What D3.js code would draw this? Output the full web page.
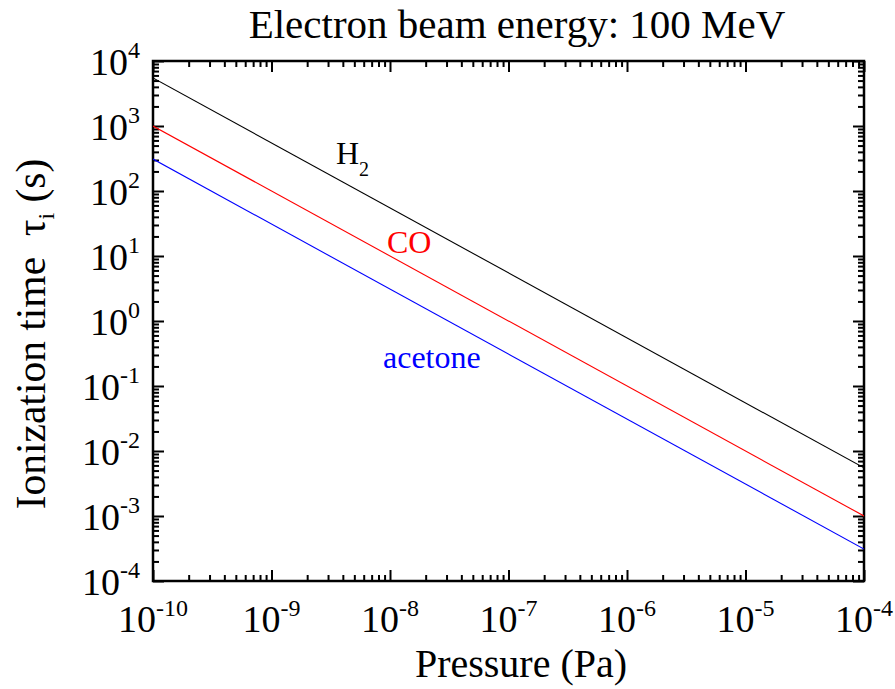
<!DOCTYPE html>
<html>
<head>
<meta charset="utf-8">
<script src="https://cdn.jsdelivr.net/npm/d3@7"></script>
<style>
  html, body { margin: 0; padding: 0; background: #fff; }
  svg { display: block; }
</style>
</head>
<body>
<svg id="chart" width="895" height="689"></svg>
<script>
// ---- data ----
const pressure = [1e-10, 1e-4];           // Pa
const h2Values = [5.5e3, 5.5e-3];         // s
const coValues = [1.0e3, 1.0e-3];         // s
const acetoneValues = [3.1e2, 3.1e-4];    // s
const seriesNames = ["H2", "CO", "acetone"];
const xTickExponents = [-10, -9, -8, -7, -6, -5, -4];
const yTickExponents = [-4, -3, -2, -1, 0, 1, 2, 3, 4];
const titleText = "Electron beam energy: 100 MeV";
const xTitleText = "Pressure (Pa)";

// ---- layout ----
const FONT = "'Liberation Serif', 'Times New Roman', Tinos, serif";
const svg = d3.select("#chart");
const margin = {left: 153, top: 61, right: 895 - 864, bottom: 689 - 581};
const W = 895 - margin.left - margin.right;
const H = 689 - margin.top - margin.bottom;

const x = d3.scaleLog().domain([1e-10, 1e-4]).range([0, W]);
const y = d3.scaleLog().domain([1e-4, 1e4]).range([H, 0]);

const g = svg.append("g").attr("transform", `translate(${margin.left},${margin.top})`);

function logTicks(lo, hi) {
  const major = [], minor = [];
  for (let e = lo; e <= hi; e++) {
    major.push(Math.pow(10, e));
    if (e < hi) for (let k = 2; k <= 9; k++) minor.push(k * Math.pow(10, e));
  }
  return {major, minor};
}
const xt = logTicks(-10, -4);
const yt = logTicks(-4, 4);

const majorLen = 11, minorLen = 6;
function drawAxis(axisGen, transform, vals, len) {
  const a = g.append("g").attr("transform", transform)
    .call(axisGen.tickValues(vals).tickSize(len).tickFormat(""));
  a.select(".domain").remove();
  a.selectAll(".tick line").attr("stroke", "#000").attr("stroke-width", 2);
}
drawAxis(d3.axisBottom(x), `translate(0,${H})`, xt.major, -majorLen);
drawAxis(d3.axisBottom(x), `translate(0,${H})`, xt.minor, -minorLen);
drawAxis(d3.axisTop(x), `translate(0,0)`, xt.major, -majorLen);
drawAxis(d3.axisTop(x), `translate(0,0)`, xt.minor, -minorLen);
drawAxis(d3.axisLeft(y), `translate(0,0)`, yt.major, -majorLen);
drawAxis(d3.axisLeft(y), `translate(0,0)`, yt.minor, -minorLen);
drawAxis(d3.axisRight(y), `translate(${W},0)`, yt.major, -majorLen);
drawAxis(d3.axisRight(y), `translate(${W},0)`, yt.minor, -minorLen);

g.append("rect").attr("x", 0).attr("y", 0).attr("width", W).attr("height", H)
  .attr("fill", "none").attr("stroke", "#000").attr("stroke-width", 2.5);

const line = d3.line().x(d => x(d[0])).y(d => y(d[1]));
const series = [
  {name: seriesNames[0], values: h2Values, color: "#000000"},
  {name: seriesNames[1], values: coValues, color: "#ff0000"},
  {name: seriesNames[2], values: acetoneValues, color: "#0000ff"}
];
svg.append("defs").append("clipPath").attr("id", "clip")
  .append("rect").attr("width", W).attr("height", H);
g.append("g").attr("clip-path", "url(#clip)").selectAll("path").data(series).join("path")
  .attr("d", s => line(pressure.map((p, i) => [p, s.values[i]])))
  .attr("fill", "none").attr("stroke", s => s.color).attr("stroke-width", 1.1);

const tickFont = 38, supFont = 24;
xTickExponents.forEach(e => {
  const t = g.append("text").attr("x", x(Math.pow(10, e))).attr("y", H + 51)
    .attr("text-anchor", "middle").attr("font-size", tickFont);
  t.append("tspan").text("10");
  t.append("tspan").attr("font-size", supFont).attr("dy", -16).text(String(e));
});
yTickExponents.forEach(e => {
  const t = g.append("text").attr("x", -13).attr("y", y(Math.pow(10, e)) + 14)
    .attr("text-anchor", "end").attr("font-size", tickFont);
  t.append("tspan").text("10");
  t.append("tspan").attr("font-size", supFont).attr("dy", -17).text(String(e));
});

const labelFont = 32;
const h2 = g.append("text").attr("x", x(Math.pow(10, -10 + (336 - 153) / 118.5)))
  .attr("y", y(Math.pow(10, 4 - (164 - 61) / 65)))
  .attr("font-size", labelFont).attr("fill", "#000");
h2.append("tspan").text("H");
h2.append("tspan").attr("font-size", 20).attr("dy", 12).text("2");
g.append("text").attr("x", x(Math.pow(10, -10 + (387 - 153) / 118.5)))
  .attr("y", y(Math.pow(10, 4 - (253 - 61) / 65)))
  .attr("font-size", labelFont).attr("fill", "#ff0000").text(seriesNames[1]);
g.append("text").attr("x", x(Math.pow(10, -10 + (383 - 153) / 118.5)))
  .attr("y", y(Math.pow(10, 4 - (368 - 61) / 65)))
  .attr("font-size", labelFont).attr("fill", "#0000ff").text(seriesNames[2]);

svg.append("text").attr("x", 517).attr("y", 38).attr("text-anchor", "middle")
  .attr("font-size", 41).text(titleText);

svg.append("text").attr("x", 521).attr("y", 677).attr("text-anchor", "middle")
  .attr("font-size", 40).text(xTitleText);

const yt2 = svg.append("text").attr("transform", "translate(45,334) rotate(-90)")
  .attr("text-anchor", "middle").attr("font-size", 41.5);
yt2.append("tspan").text("Ionization time\u00a0\u00a0\u03c4");
yt2.append("tspan").attr("font-size", 24).attr("dy", 9).text("i");
yt2.append("tspan").attr("dy", -9).text(" (s)");

svg.selectAll("text").style("font-family", FONT);
</script>
</body>
</html>
